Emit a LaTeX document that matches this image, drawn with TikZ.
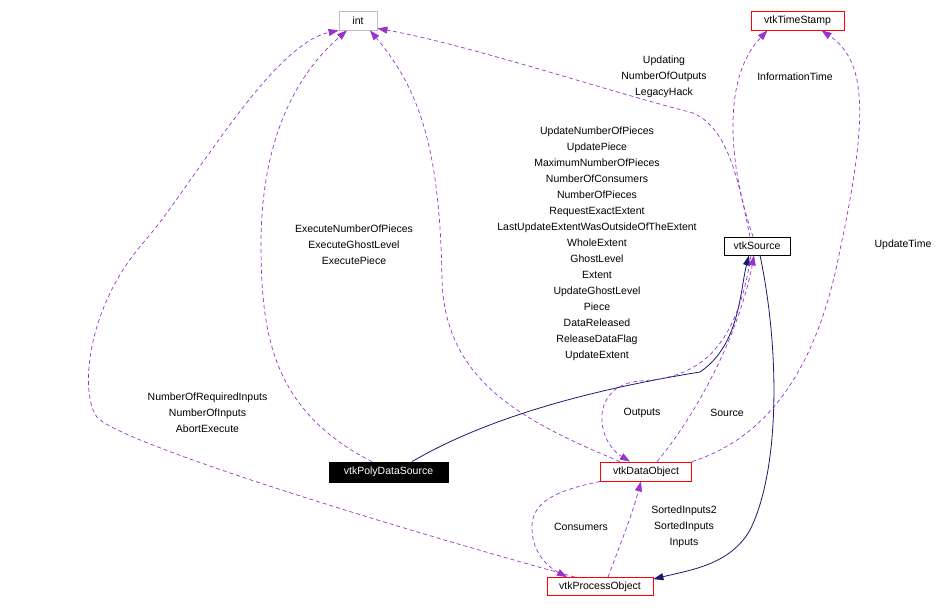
\documentclass[tikz,border=0pt]{standalone}
\usepackage{fontspec}
\setmainfont{Liberation Sans}
\usetikzlibrary{arrows.meta}
\definecolor{edgepurple}{HTML}{9A32CD}
\definecolor{edgenavy}{HTML}{191970}
\definecolor{intgray}{HTML}{BFBFBF}
\begin{document}
\begin{tikzpicture}[x=1pt,y=-1pt,
  cls/.style={draw, line width=0.8pt, inner sep=0pt, minimum height=19pt, font=\fontsize{10.5}{12}\selectfont},
  lbl/.style={align=center, inner sep=0pt, font=\fontsize{10.5}{16}\selectfont},
  usage/.style={draw=edgepurple, line width=0.7pt, dash pattern=on 4pt off 3pt, -{Triangle[length=10pt,width=7pt]}},
  inherit/.style={draw=edgenavy, line width=0.8pt, -{Triangle[length=10pt,width=7pt]}}
 ]
\useasboundingbox (0,0) rectangle (952,608);
% classes
\node[cls, draw=intgray, minimum width=38pt] (int) at (358,20.5) {int};
\node[cls, draw=red, minimum width=93pt] (ts) at (797.5,20.5) {vtkTimeStamp};
\node[cls, draw=black, minimum width=66pt, minimum height=18pt] (src) at (757,246) {vtkSource};
\node[cls, draw=black, fill=black, text=white, minimum width=119pt, minimum height=20pt] (pds) at (388.5,472) {vtkPolyDataSource};
\node[cls, draw=red, minimum width=91pt] (dobj) at (646,471.5) {vtkDataObject};
\node[cls, draw=red, minimum width=106pt, minimum height=18pt] (pobj) at (600,586.5) {vtkProcessObject};
% labels
\node[lbl] (l1) at (207.5,413) {NumberOfRequiredInputs\\NumberOfInputs\\AbortExecute};
\node[lbl] (l2) at (354,245) {ExecuteNumberOfPieces\\ExecuteGhostLevel\\ExecutePiece};
\node[lbl] (l3) at (597,244) {UpdateNumberOfPieces\\UpdatePiece\\MaximumNumberOfPieces\\NumberOfConsumers\\NumberOfPieces\\RequestExactExtent\\LastUpdateExtentWasOutsideOfTheExtent\\WholeExtent\\GhostLevel\\Extent\\UpdateGhostLevel\\Piece\\DataReleased\\ReleaseDataFlag\\UpdateExtent};
\node[lbl] (l4) at (664,77) {Updating\\NumberOfOutputs\\LegacyHack};
\node[lbl] (l5) at (795,77) {InformationTime};
\node[lbl] (l6) at (903,245) {UpdateTime};
\node[lbl] (l7) at (642,413) {Outputs};
\node[lbl] (l8) at (727,413) {Source};
\node[lbl] (l9) at (581,527) {Consumers};
\node[lbl] (l10) at (684,527) {SortedInputs2\\SortedInputs\\Inputs};
% edges to int
\draw[usage] ([xshift=-25pt]pobj.north) .. controls (350,515) and (115,440) .. (97,417)
  .. controls (80,395) and (85,310) .. (143,243)
  .. controls (190,190) and (270,45) .. (int.south west);
\draw[usage] ([xshift=-16.5pt]pds.north) .. controls (270,410) and (262,330) .. (261,250)
  .. controls (260,150) and (290,80) .. ([xshift=-11pt]int.south);
\draw[usage] ([xshift=-26pt]dobj.north) .. controls (520,420) and (445,380) .. (442,280)
  .. controls (440,150) and (420,90) .. ([xshift=12pt]int.south);
\draw[usage] ([xshift=-7pt]src.north) .. controls (740,190) and (730,125) .. (690,112)
  .. controls (620,95) and (470,45) .. ([yshift=2pt]int.south east);
% edges to vtkTimeStamp
\draw[usage] ([xshift=-4pt]src.north) .. controls (730,170) and (720,80) .. ([xshift=-30pt]ts.south);
\draw[usage] (dobj.north east) .. controls (760,440) and (815,380) .. (840,250)
  .. controls (870,110) and (865,60) .. ([xshift=24pt]ts.south);
% edges to vtkSource
\draw[inherit] ([xshift=23.5pt]pds.north) .. controls (500,410) and (620,385) .. (700,372)
  .. controls (740,345) and (740,290) .. ([xshift=-8pt]src.south);
\draw[usage] ([xshift=11pt]dobj.north) .. controls (700,410) and (740,330) .. ([xshift=-3pt]src.south);
% Outputs
\draw[usage] ([xshift=-6pt]src.south) .. controls (735,360) and (690,378) .. (640,381)
  .. controls (590,385) and (595,440) .. ([xshift=-16pt]dobj.north);
% Consumers
\draw[usage] (dobj.south west) .. controls (560,490) and (530,500) .. (532,530)
  .. controls (533,555) and (550,568) .. ([xshift=-33pt]pobj.north);
% Inputs
\draw[usage] ([xshift=8pt]pobj.north) .. controls (620,545) and (632,515) .. ([xshift=-5pt]dobj.south);
% vtkSource -> vtkProcessObject
\draw[inherit] ([xshift=3pt]src.south) .. controls (780,350) and (780,470) .. (750,530)
  .. controls (730,565) and (690,570) .. ([yshift=-2pt]pobj.north east);
\end{tikzpicture}
\end{document}
